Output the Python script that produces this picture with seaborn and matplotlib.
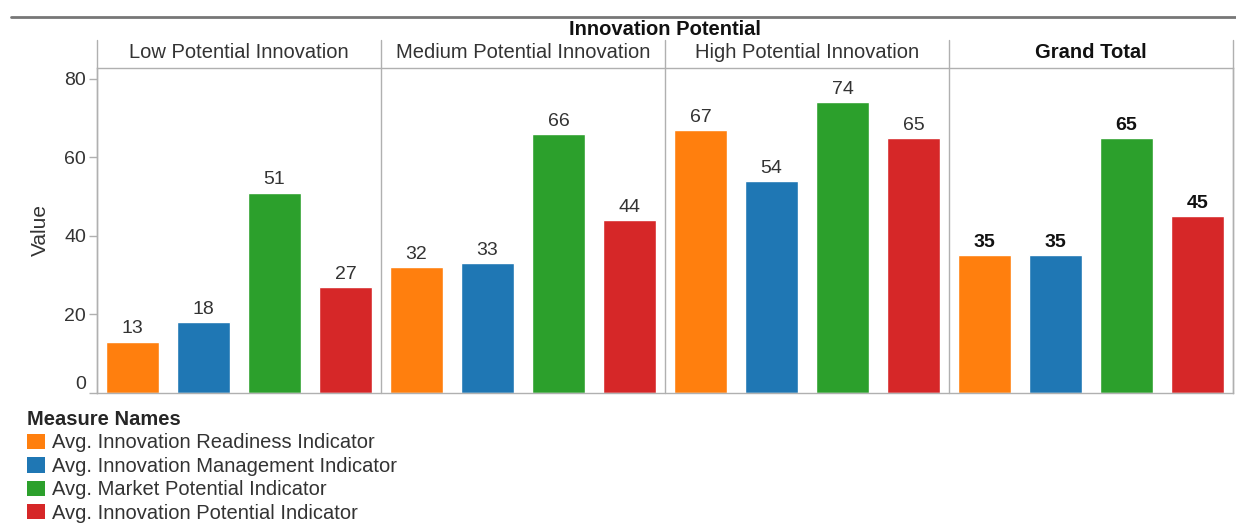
import matplotlib
matplotlib.use("Agg")
import matplotlib.pyplot as plt
import matplotlib.transforms as mtransforms
from matplotlib.patches import Patch
from matplotlib.lines import Line2D
import seaborn as sns
import pandas as pd

# ---- data -------------------------------------------------------------
groups = ["Low Potential Innovation", "Medium Potential Innovation",
          "High Potential Innovation", "Grand Total"]
measures = ["Avg. Innovation Readiness Indicator",
            "Avg. Innovation Management Indicator",
            "Avg. Market Potential Indicator",
            "Avg. Innovation Potential Indicator"]
readiness = [13, 32, 67, 35]
management = [18, 33, 54, 35]
market = [51, 66, 74, 65]
potential = [27, 44, 65, 45]
y_ticks = [0, 20, 40, 60, 80]

colors = ["#FF7F0E", "#1F77B4", "#2CA02C", "#D62728"]

rows = []
for measure, vals in zip(measures, [readiness, management, market, potential]):
    for g, v in zip(groups, vals):
        rows.append({"group": g, "measure": measure, "value": v})
df = pd.DataFrame(rows)

# ---- figure -----------------------------------------------------------
sns.set_theme(style="white")
plt.rcParams["font.family"] = ["Liberation Sans", "DejaVu Sans"]

W, H = 1236, 527
fig = plt.figure(figsize=(W / 100, H / 100), dpi=100)

left_px, right_px, top_px, base_px = 97, 1233, 68, 392.5
ax = fig.add_axes([left_px / W, 1 - base_px / H,
                   (right_px - left_px) / W, (base_px - top_px) / H])

sns.barplot(data=df, x="group", y="value", hue="measure",
            order=groups, hue_order=measures, palette=colors,
            width=1.0, gap=0.25, saturation=1, legend=False, ax=ax,
            errorbar=None)

ax.set_xlim(-0.5, len(groups) - 0.5)
ax.set_ylim(0, 82.8)
ax.set_xticks([])
ax.set_xlabel("")
ax.set_yticks(y_ticks)
ax.set_yticklabels([str(t) for t in y_ticks])
ax.tick_params(axis="y", which="both", left=True, length=6, width=1,
               color="#b0b0b0", labelsize=14, labelcolor="#333333", pad=2)
ax.set_ylabel("Value", fontsize=15, color="#333333", labelpad=10)

# nudge the zero label upwards so it sits inside the axis
zero_lbl = ax.get_yticklabels()[0]
zero_lbl.set_transform(zero_lbl.get_transform() +
                       mtransforms.ScaledTranslation(0, 0.10, fig.dpi_scale_trans))

for s in ["left", "right", "top", "bottom"]:
    ax.spines[s].set_visible(True)
    ax.spines[s].set_color("#b0b0b0")
    ax.spines[s].set_linewidth(1)

# panel dividers, extended up through the header row
header_top_px = 40
ext = (base_px - header_top_px) / (base_px - top_px)
for xv in [-0.5, 0.5, 1.5, 2.5, 3.5]:
    ax.axvline(xv, ymin=0, ymax=ext, color="#b0b0b0", lw=1, clip_on=False)

# panel headers
for i, g in enumerate(groups):
    ax.text(i, 1 + (top_px - 53) / (base_px - top_px), g,
            transform=ax.get_xaxis_transform(), ha="center", va="center",
            fontsize=14.5, color="#333333" if g != "Grand Total" else "#111111",
            fontweight="bold" if g == "Grand Total" else "normal")

fig.text((left_px + right_px) / 2 / W, 1 - 29.5 / H, "Innovation Potential",
         ha="center", va="center", fontsize=14.5, fontweight="bold",
         color="#111111")

# top rule
fig.add_artist(Line2D([11 / W, 1.0], [1 - 17 / H, 1 - 17 / H],
                      transform=fig.transFigure, color="#777777", lw=2))

# value labels
for container in ax.containers:
    texts = ax.bar_label(container, fmt="%d", padding=3, fontsize=14,
                         color="#333333")
    texts[-1].set_fontweight("bold")
    texts[-1].set_color("#111111")

# legend
handles = [Patch(facecolor=c, edgecolor="none") for c in colors]
leg = fig.legend(handles, measures, loc="upper left",
                 bbox_to_anchor=(27 / W, 1 - 410 / H),
                 title="Measure Names", frameon=False,
                 fontsize=14.5, title_fontsize=14.5,
                 handlelength=0.9, handleheight=0.8, handletextpad=0.35,
                 labelspacing=0.22, borderaxespad=0, borderpad=0)
leg.get_title().set_fontweight("bold")
leg._legend_box.align = "left"
for t in leg.get_texts():
    t.set_color("#333333")

fig.savefig("out.png", dpi=100)
